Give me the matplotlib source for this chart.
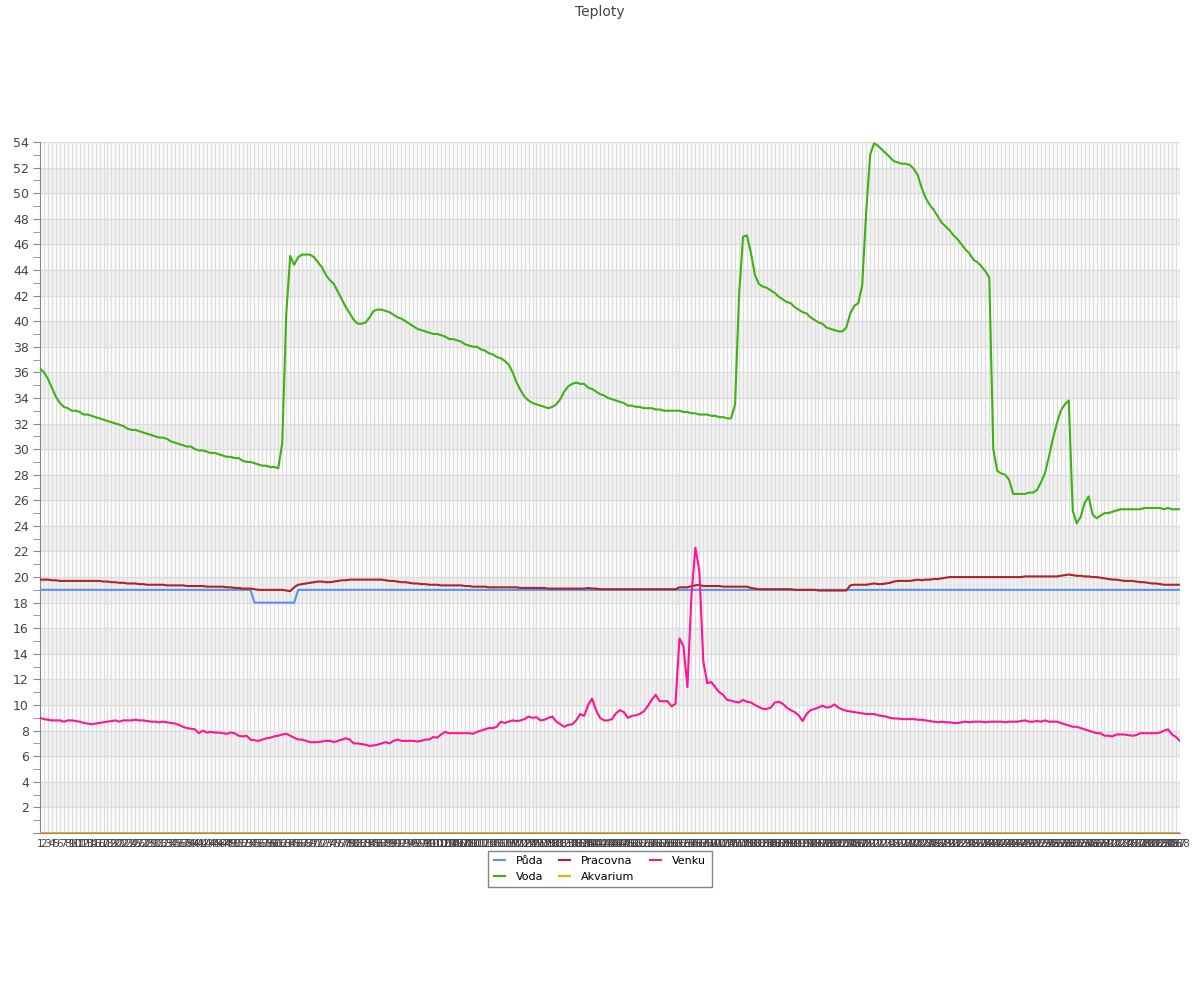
import matplotlib
matplotlib.use("Agg")
import matplotlib.pyplot as plt
from matplotlib.ticker import MultipleLocator

plt.rcParams['font.family'] = ['DejaVu Sans']

title = "Teploty"
series_names = ["Půda", "Voda", "Pracovna", "Akvarium", "Venku"]
n_points = 288
categories = [str(i + 1) for i in range(n_points)]

voda = [
    36.3, 36.0, 35.5, 34.8, 34.1, 33.6, 33.3, 33.2, 33.0, 33.0,
    32.9, 32.7, 32.7, 32.6, 32.5, 32.4, 32.3, 32.2, 32.1, 32.0,
    31.9, 31.8, 31.6, 31.5, 31.5, 31.4, 31.3, 31.2, 31.1, 31.0,
    30.9, 30.9, 30.8, 30.6, 30.5, 30.4, 30.3, 30.2, 30.2, 30.0,
    29.9, 29.9, 29.8, 29.7, 29.7, 29.6, 29.5, 29.4, 29.4, 29.3,
    29.3, 29.1, 29.0, 29.0, 28.9, 28.8, 28.7, 28.7, 28.6, 28.6,
    28.5, 30.5, 40.5, 45.1, 44.4, 45.0, 45.2, 45.2, 45.2, 45.0,
    44.6, 44.2, 43.6, 43.2, 42.9, 42.3, 41.7, 41.1, 40.6, 40.1,
    39.8, 39.8, 39.9, 40.3, 40.8, 40.9, 40.9, 40.8, 40.7, 40.5,
    40.3, 40.2, 40.0, 39.8, 39.6, 39.4, 39.3, 39.2, 39.1, 39.0,
    39.0, 38.9, 38.8, 38.6, 38.6, 38.5, 38.4, 38.2, 38.1, 38.0,
    38.0, 37.8, 37.7, 37.5, 37.4, 37.2, 37.1, 36.9, 36.6, 36.0,
    35.2, 34.6, 34.1, 33.8, 33.6, 33.5, 33.4, 33.3, 33.2, 33.3,
    33.5, 33.9, 34.5, 34.9, 35.1, 35.2, 35.1, 35.1, 34.8, 34.7,
    34.5, 34.3, 34.2, 34.0, 33.9, 33.8, 33.7, 33.6, 33.4, 33.4,
    33.3, 33.3, 33.2, 33.2, 33.2, 33.1, 33.1, 33.0, 33.0, 33.0,
    33.0, 33.0, 32.9, 32.9, 32.8, 32.8, 32.7, 32.7, 32.7, 32.6,
    32.6, 32.5, 32.5, 32.4, 32.4, 33.5, 42.0, 46.6, 46.7, 45.3,
    43.6, 42.9, 42.7, 42.6, 42.4, 42.2, 41.9, 41.7, 41.5, 41.4,
    41.1, 40.9, 40.7, 40.6, 40.3, 40.1, 39.9, 39.8, 39.5, 39.4,
    39.3, 39.2, 39.2, 39.5, 40.6, 41.2, 41.4, 42.8, 48.5, 53.0,
    53.9, 53.7, 53.4, 53.1, 52.8, 52.5, 52.4, 52.3, 52.3, 52.2,
    51.9, 51.4, 50.4, 49.6, 49.1, 48.7, 48.2, 47.7, 47.4, 47.1,
    46.7, 46.4, 46.0, 45.6, 45.3, 44.8, 44.6, 44.3, 43.9, 43.4,
    30.0, 28.3, 28.1, 28.0, 27.6, 26.5, 26.5, 26.5, 26.5, 26.6,
    26.6, 26.8, 27.4, 28.1, 29.4, 30.8, 32.0, 33.0, 33.5, 33.8,
    25.2, 24.2, 24.7, 25.8, 26.3, 24.9, 24.6, 24.8, 25.0, 25.0,
    25.1, 25.2, 25.3, 25.3, 25.3, 25.3, 25.3, 25.3, 25.4, 25.4,
    25.4, 25.4, 25.4, 25.3, 25.4, 25.3, 25.3, 25.3,
]

puda = [19.0] * 54 + [18.0] * 11 + [19.0] * 223

pracovna = [
    19.8, 19.8, 19.8, 19.75, 19.75, 19.7, 19.7, 19.7, 19.7, 19.7,
    19.7, 19.7, 19.7, 19.7, 19.7, 19.7, 19.65, 19.65, 19.6, 19.6,
    19.55, 19.55, 19.5, 19.5, 19.5, 19.45, 19.45, 19.4, 19.4, 19.4,
    19.4, 19.4, 19.35, 19.35, 19.35, 19.35, 19.35, 19.3, 19.3, 19.3,
    19.3, 19.3, 19.25, 19.25, 19.25, 19.25, 19.25, 19.2, 19.2, 19.15,
    19.15, 19.1, 19.1, 19.1, 19.05, 19.0, 19.0, 19.0, 19.0, 19.0,
    19.0, 19.0, 18.95, 18.9, 19.2, 19.4, 19.45, 19.5, 19.55, 19.6,
    19.65, 19.65, 19.6, 19.6, 19.65, 19.7, 19.75, 19.75, 19.8, 19.8,
    19.8, 19.8, 19.8, 19.8, 19.8, 19.8, 19.8, 19.75, 19.7, 19.7,
    19.65, 19.6, 19.6, 19.55, 19.5, 19.5, 19.45, 19.45, 19.4, 19.4,
    19.4, 19.35, 19.35, 19.35, 19.35, 19.35, 19.35, 19.3, 19.3, 19.25,
    19.25, 19.25, 19.25, 19.2, 19.2, 19.2, 19.2, 19.2, 19.2, 19.2,
    19.2, 19.15, 19.15, 19.15, 19.15, 19.15, 19.15, 19.15, 19.1, 19.1,
    19.1, 19.1, 19.1, 19.1, 19.1, 19.1, 19.1, 19.1, 19.15, 19.1,
    19.1, 19.05, 19.05, 19.05, 19.05, 19.05, 19.05, 19.05, 19.05, 19.05,
    19.05, 19.05, 19.05, 19.05, 19.05, 19.05, 19.05, 19.05, 19.05, 19.05,
    19.05, 19.2, 19.2, 19.2, 19.3, 19.35, 19.4, 19.3, 19.3, 19.3,
    19.3, 19.3, 19.25, 19.25, 19.25, 19.25, 19.25, 19.25, 19.25, 19.15,
    19.1, 19.05, 19.05, 19.05, 19.05, 19.05, 19.05, 19.05, 19.05, 19.05,
    19.0, 19.0, 19.0, 19.0, 19.0, 19.0, 18.95, 18.95, 18.95, 18.95,
    18.95, 18.95, 18.95, 18.95, 19.35, 19.4, 19.4, 19.4, 19.4, 19.45,
    19.5, 19.45, 19.45, 19.5, 19.55, 19.65, 19.7, 19.7, 19.7, 19.7,
    19.75, 19.8, 19.75, 19.8, 19.8, 19.85, 19.85, 19.9, 19.95, 20.0,
    20.0, 20.0, 20.0, 20.0, 20.0, 20.0, 20.0, 20.0, 20.0, 20.0,
    20.0, 20.0, 20.0, 20.0, 20.0, 20.0, 20.0, 20.0, 20.05, 20.05,
    20.05, 20.05, 20.05, 20.05, 20.05, 20.05, 20.05, 20.1, 20.15, 20.2,
    20.15, 20.1, 20.1, 20.05, 20.05, 20.0, 20.0, 19.95, 19.9, 19.85,
    19.8, 19.8, 19.75, 19.7, 19.7, 19.7, 19.65, 19.6, 19.6, 19.55,
    19.5, 19.5, 19.45, 19.4, 19.4, 19.4, 19.4, 19.4,
]

akvarium = [0.0] * n_points

venku = [
    9.0, 8.9, 8.85, 8.8, 8.8, 8.8, 8.7, 8.8, 8.8, 8.75,
    8.7, 8.6, 8.55, 8.5, 8.55, 8.6, 8.65, 8.7, 8.75, 8.8,
    8.7, 8.8, 8.8, 8.8, 8.85, 8.8, 8.8, 8.75, 8.7, 8.7,
    8.65, 8.7, 8.65, 8.6, 8.55, 8.45, 8.3, 8.2, 8.15, 8.1,
    7.8, 8.0, 7.85, 7.9, 7.85, 7.85, 7.8, 7.75, 7.85, 7.8,
    7.6, 7.55, 7.6, 7.3, 7.25, 7.2, 7.3, 7.4, 7.45, 7.55,
    7.6, 7.7, 7.75, 7.6, 7.45, 7.3, 7.3, 7.2, 7.1, 7.1,
    7.1, 7.15, 7.2, 7.2, 7.1, 7.2, 7.3, 7.4, 7.3, 7.0,
    7.0, 6.95, 6.9, 6.8, 6.85, 6.9, 7.0, 7.1, 7.0, 7.2,
    7.3, 7.2, 7.2, 7.2, 7.2, 7.15, 7.2, 7.3, 7.3, 7.5,
    7.45, 7.7, 7.9, 7.8, 7.8, 7.8, 7.8, 7.8, 7.8, 7.75,
    7.9, 8.0, 8.1, 8.2, 8.2, 8.3, 8.7, 8.6, 8.7, 8.8,
    8.75, 8.8, 8.9, 9.1, 9.0, 9.05, 8.8, 8.85, 9.0, 9.1,
    8.7, 8.5, 8.3, 8.45, 8.5, 8.8, 9.3, 9.15, 10.0, 10.5,
    9.6, 9.0, 8.8, 8.8, 8.9, 9.35, 9.6, 9.45, 9.0, 9.15,
    9.2, 9.3, 9.5, 9.9, 10.4, 10.8, 10.3, 10.3, 10.3, 9.9,
    10.1, 15.2, 14.6, 11.4, 18.5, 22.3, 20.5, 13.4, 11.7, 11.8,
    11.4, 11.0, 10.8, 10.4, 10.35, 10.25, 10.2, 10.4, 10.25, 10.2,
    10.0, 9.85, 9.7, 9.7, 9.8, 10.2, 10.25, 10.1, 9.8, 9.6,
    9.45, 9.2, 8.75, 9.3, 9.6, 9.7, 9.8, 9.95, 9.8, 9.85,
    10.05, 9.8, 9.65, 9.55, 9.5, 9.45, 9.4, 9.35, 9.3, 9.3,
    9.3, 9.2, 9.15, 9.1, 9.0, 8.95, 8.95, 8.9, 8.9, 8.9,
    8.9, 8.85, 8.85, 8.8, 8.75, 8.7, 8.65, 8.7, 8.65, 8.65,
    8.6, 8.6, 8.65, 8.7, 8.65, 8.7, 8.7, 8.7, 8.65, 8.7,
    8.7, 8.7, 8.7, 8.65, 8.7, 8.7, 8.7, 8.75, 8.8, 8.7,
    8.7, 8.75, 8.7, 8.8, 8.7, 8.7, 8.7, 8.6, 8.5, 8.4,
    8.3, 8.3, 8.2, 8.1, 8.0, 7.9, 7.8, 7.8, 7.6, 7.6,
    7.55, 7.7, 7.7, 7.7, 7.65, 7.6, 7.65, 7.8, 7.8, 7.8,
    7.8, 7.8, 7.85, 8.0, 8.1, 7.7, 7.5, 7.2,
]

colors = {
    "Půda": "#5b8ff9",
    "Voda": "#3db312",
    "Pracovna": "#b22222",
    "Akvarium": "#ffa500",
    "Venku": "#ff1493",
}
data = {"Půda": puda, "Voda": voda, "Pracovna": pracovna,
        "Akvarium": akvarium, "Venku": venku}

fig = plt.figure(figsize=(12, 10), dpi=100)
ax = fig.add_axes([0.0333, 0.167, 0.95, 0.691])

y_min, y_max = 0, 54
# alternating bands
for lo in range(2, y_max, 4):
    ax.axhspan(lo, lo + 2, color="#f3f3f3", zorder=0, lw=0)

x = list(range(n_points))
ax.set_xlim(0, n_points - 1)
ax.set_ylim(y_min, y_max)

ax.set_xticks(x)
ax.set_xticklabels(categories, fontsize=7.5, color="#444444")
ax.tick_params(axis="x", length=0, pad=4)

ax.yaxis.set_major_locator(MultipleLocator(2))
ax.yaxis.set_minor_locator(MultipleLocator(1))
yt = list(range(0, y_max + 1, 2))
ax.set_yticks(yt)
ax.set_yticklabels(["" if v == 0 else str(v) for v in yt], fontsize=9, color="#444444")
ax.tick_params(axis="y", which="major", length=5, color="#888888", pad=3)
ax.tick_params(axis="y", which="minor", length=5, color="#888888")

ax.grid(True, axis="both", which="major", color="#dddddd", lw=1, zorder=1)
ax.set_axisbelow(True)

for s in ["top", "right"]:
    ax.spines[s].set_visible(False)
ax.spines["left"].set_color("#888888")
ax.spines["bottom"].set_color("#888888")

handles = []
for name in series_names:
    h, = ax.plot(x, data[name], color=colors[name], lw=1.5, label=name,
                 zorder=3, solid_joinstyle="round")
    handles.append(h)

fig.suptitle(title, y=0.995, fontsize=10, color="#444444")

fig.legend(handles=handles, labels=series_names, loc="upper center",
           bbox_to_anchor=(0.5, 0.155), ncol=3, fontsize=8, frameon=True,
           fancybox=False, edgecolor="#666666", handlelength=1.0,
           columnspacing=1.4, borderpad=0.5, labelspacing=0.5,
           handletextpad=1.0)

fig.savefig("out.png", dpi=100)
